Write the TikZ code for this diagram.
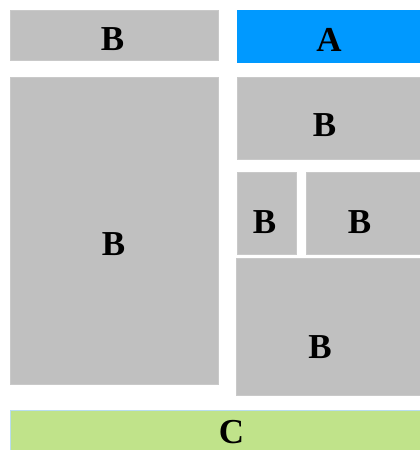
\documentclass[tikz,border=0pt]{standalone}
\usepackage{fontspec}
\setmainfont{Liberation Serif}
\begin{document}
\begin{tikzpicture}[x=1pt,y=-1pt,
  gbox/.style={fill=boxgray,draw=boxgray!85!white,line width=0.6pt},
  lbl/.style={inner sep=0pt,font=\fontsize{35}{35}\selectfont\bfseries}]
\definecolor{boxgray}{HTML}{C0C0C0}
\definecolor{ablue}{HTML}{0099FF}
\definecolor{cgreen}{HTML}{C0E38A}
\definecolor{cedge}{HTML}{B8DDF0}
\useasboundingbox (0,0) rectangle (420,450);
\path[gbox] (10,10) rectangle (218,60);
\path[fill=ablue] (237,10) rectangle (421,63);
\path[gbox] (10,77) rectangle (218,384);
\path[gbox] (237,77) rectangle (421,159);
\path[gbox] (237,172) rectangle (296,254);
\path[gbox] (306,172) rectangle (421,254);
\path[gbox] (236,258) rectangle (421,395);
\path[fill=cgreen,draw=cedge,line width=0.8pt] (10,410) rectangle (421,451);
\node[lbl] (t1) at (112.5,39.5) {B};
\node[lbl] (ta) at (329,39.5) {A};
\node[lbl] (t2) at (113.5,244) {B};
\node[lbl] (t3) at (324.5,125) {B};
\node[lbl] (t4) at (264.5,222.5) {B};
\node[lbl] (t5) at (359.5,222.5) {B};
\node[lbl] (t6) at (320,347.5) {B};
\node[lbl] (tc) at (231.5,432) {C};
\end{tikzpicture}
\end{document}
